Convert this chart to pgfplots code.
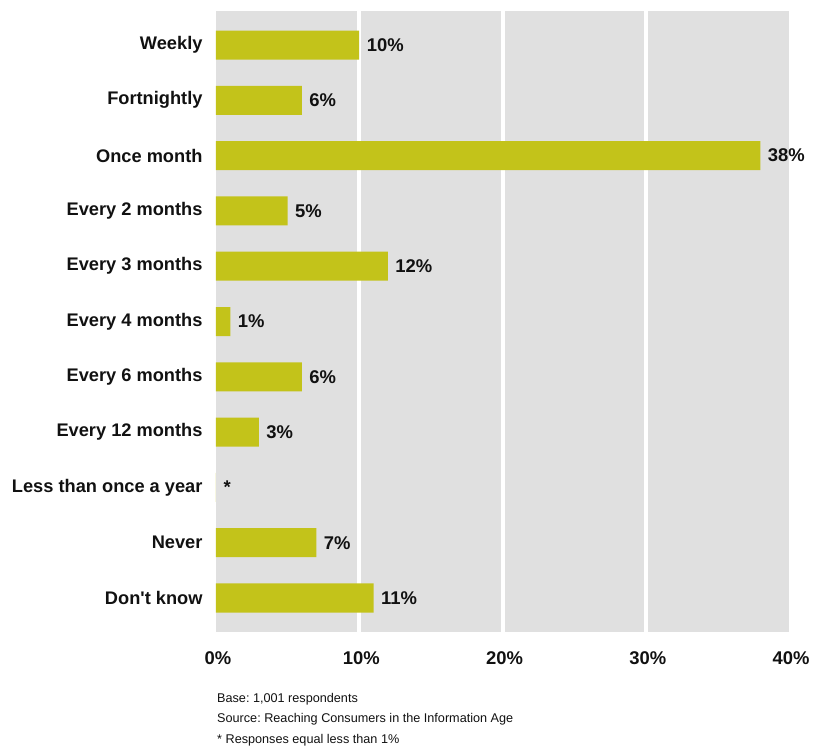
\documentclass[border=0pt]{standalone}
\usepackage{pgfplots}
\pgfplotsset{compat=1.18}
\usepackage{fontspec}
\setmainfont{Liberation Sans}
\frenchspacing
\definecolor{barc}{RGB}{195,195,26}
\definecolor{bgc}{RGB}{224,224,224}
\definecolor{txt}{RGB}{17,17,17}
\begin{document}
\begin{tikzpicture}
\begin{axis}[
  xbar,
  scale only axis,
  width=573bp, height=621bp,
  xmin=0, xmax=40,
  ymin=-0.615, ymax=10.615,
  y dir=reverse,
  axis background/.style={fill=bgc},
  axis line style={draw=none},
  major tick length=0pt,
  xtick={0,10,20,30,40},
  xticklabels={0\%,10\%,20\%,30\%,40\%},
  extra x ticks={10,20,30},
  extra x tick labels={},
  extra x tick style={grid=major, major grid style={white, line width=4bp}},
  ytick={0,1,2,3,4,5,6,7,8,9,10},
  yticklabels={Weekly,Fortnightly,Once month,Every 2 months,Every 3 months,Every 4 months,Every 6 months,Every 12 months,Less than once a year,Never,Don\textquotesingle t know},
  xticklabel style={font=\bfseries\fontsize{18.5}{18.5}\selectfont, text=txt, yshift=-16bp, xshift=2bp},
  yticklabel style={font=\bfseries\fontsize{18.3}{18.3}\selectfont, text=txt, xshift=-10bp},
  bar width=29bp,
  point meta=explicit symbolic,
  nodes near coords,
  nodes near coords style={anchor=west, font=\bfseries\fontsize{18.5}{18.5}\selectfont, text=txt, xshift=4bp},
]
\addplot[fill=barc, draw=none] coordinates {
  (10,0) [10\%]
  (6,1) [6\%]
  (38,2) [38\%]
  (5,3) [5\%]
  (12,4) [12\%]
  (1,5) [1\%]
  (6,6) [6\%]
  (3,7) [3\%]
  (0,8) [*]
  (7,9) [7\%]
  (11,10) [11\%]
};
\end{axis}
\node[anchor=north west, align=left, inner sep=0pt, text=txt,
      font=\fontsize{12.7}{20.5}\selectfont]
  at ([xshift=1bp,yshift=-61bp]current axis.south west)
  {Base: 1,001 respondents\\Source: Reaching Consumers in the Information Age\\* Responses equal less than 1\%};
\pgfresetboundingbox
\path ([xshift=-216bp,yshift=-122bp]current axis.south west) rectangle ([xshift=30bp,yshift=11bp]current axis.north east);
\end{tikzpicture}
\end{document}
